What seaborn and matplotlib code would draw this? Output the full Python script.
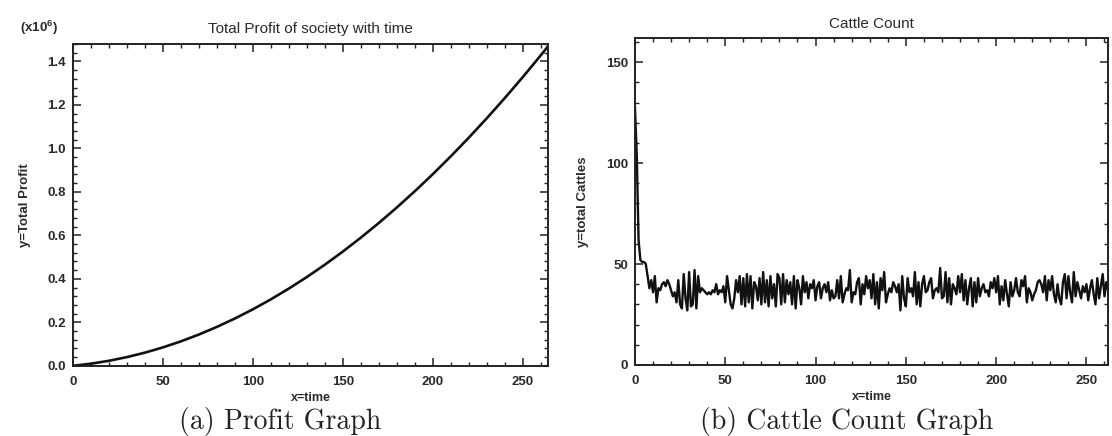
import numpy as np
import pandas as pd
import seaborn as sns
import matplotlib
matplotlib.use("Agg")
import matplotlib.pyplot as plt
from matplotlib.ticker import MultipleLocator, FormatStrFormatter

# ---------------- data ----------------
profit_time = [0, 10, 20, 30, 40, 50, 60, 70, 80, 90, 100, 110, 120, 130, 140,
               150, 160, 170, 180, 190, 200, 210, 220, 230, 240, 250, 260, 264]
profit_millions = [0.0, 0.0097, 0.023, 0.040, 0.0605, 0.0847, 0.1125, 0.1439,
                   0.179, 0.2176, 0.2599, 0.3058, 0.3553, 0.4084, 0.4652, 0.5255,
                   0.5895, 0.6571, 0.7283, 0.8031, 0.8816, 0.9637, 1.0494, 1.1387,
                   1.2316, 1.3281, 1.4283, 1.4694]

cattle_count = [
    128, 104, 62, 52, 51, 51, 50, 44, 38, 42,
    36, 44, 31, 38, 37, 40, 41, 39, 42, 40,
    37, 34, 36, 31, 42, 30, 28, 45, 33, 27,
    46, 29, 30, 47, 28, 44, 36, 38, 37, 36,
    35, 36, 35, 37, 36, 40, 35, 37, 36, 39,
    31, 44, 37, 30, 28, 33, 42, 36, 44, 30,
    43, 29, 45, 31, 44, 28, 41, 39, 32, 43,
    30, 46, 31, 42, 29, 44, 33, 40, 29, 45,
    43, 30, 45, 31, 42, 35, 41, 30, 44, 28,
    42, 38, 30, 44, 36, 41, 33, 40, 38, 42,
    32, 39, 41, 33, 38, 40, 36, 41, 32, 37,
    33, 34, 42, 33, 44, 31, 35, 38, 37, 47,
    31, 36, 35, 41, 43, 30, 40, 35, 44, 38,
    42, 33, 45, 30, 41, 28, 43, 37, 46, 31,
    35, 38, 36, 41, 39, 36, 40, 27, 44, 33,
    29, 43, 36, 38, 34, 46, 30, 41, 29, 40,
    44, 36, 37, 41, 43, 33, 37, 38, 36, 48,
    33, 34, 46, 31, 43, 30, 40, 38, 35, 44,
    36, 45, 32, 42, 30, 38, 43, 29, 41, 31,
    43, 34, 38, 40, 36, 37, 34, 41, 38, 43,
    36, 44, 30, 39, 32, 42, 35, 29, 41, 34,
    37, 43, 36, 34, 42, 39, 44, 31, 38, 36,
    32, 35, 37, 41, 42, 40, 36, 44, 32, 42,
    37, 44, 35, 31, 40, 33, 30, 41, 45, 33,
    44, 36, 31, 46, 34, 41, 37, 33, 39, 36,
    40, 32, 38, 42, 35, 30, 43, 33, 39, 45,
    34, 41, 37, 46,
]
cattle_time = list(range(len(cattle_count)))

profit_df = pd.DataFrame({"time": profit_time, "profit": profit_millions})
cattle_df = pd.DataFrame({"time": cattle_time, "cattle": cattle_count})

# ---------------- style ----------------
sns.set_style("ticks")
plt.rcParams["font.family"] = ["Liberation Sans", "DejaVu Sans"]
plt.rcParams["mathtext.fontset"] = "custom"
plt.rcParams["mathtext.rm"] = "Liberation Sans"
plt.rcParams["mathtext.bf"] = "Liberation Sans:bold"

fig = plt.figure(figsize=(11.12, 4.36), dpi=100)
ax1 = fig.add_axes([0.0656, 0.161, 0.4272, 0.738])
ax2 = fig.add_axes([0.5710, 0.163, 0.4255, 0.750])

tick_fs = 9.5
title_fs = 11
ink = "#2a2a2a"

def style_axes(ax):
    for s in ax.spines.values():
        s.set_linewidth(1.4)
        s.set_color("#222222")
    ax.tick_params(which="both", direction="in", top=True, right=True,
                   colors="#222222", labelsize=tick_fs, labelcolor=ink)
    ax.tick_params(which="major", length=6, width=1.1)
    ax.tick_params(axis="y", which="major", pad=5)
    ax.tick_params(axis="x", which="major", pad=7)
    ax.tick_params(which="minor", length=3, width=1.0)
    ax.xaxis.set_major_locator(MultipleLocator(50))
    ax.xaxis.set_minor_locator(MultipleLocator(10))
    for lab in ax.get_xticklabels() + ax.get_yticklabels():
        lab.set_fontweight("bold")

# ---- left: profit ----
sns.lineplot(data=profit_df, x="time", y="profit", ax=ax1, color="#111111",
             linewidth=1.9)
ax1.set_xlim(0, 264)
ax1.set_ylim(0, 1.48)
ax1.yaxis.set_major_locator(MultipleLocator(0.2))
ax1.yaxis.set_minor_locator(MultipleLocator(0.04))
ax1.yaxis.set_major_formatter(FormatStrFormatter("%.1f"))
style_axes(ax1)
ax1.set_xlabel("x=time", fontsize=9, color=ink, fontweight="bold", labelpad=3)
ax1.set_ylabel("y=Total Profit", fontsize=9.5, color=ink, fontweight="bold",
               labelpad=12)
ax1.set_title("Total Profit of society with time", fontsize=title_fs,
              color=ink, pad=8)
fig.text(39 / 1112, 1 - 28 / 436, r"(x10$^{\mathbf{6}}$)", fontsize=tick_fs,
         color=ink, fontweight="bold", ha="center", va="center")

# ---- right: cattle ----
sns.lineplot(data=cattle_df, x="time", y="cattle", ax=ax2, color="#111111",
             linewidth=1.7)
ax2.set_xlim(0, 262)
ax2.set_ylim(0, 162)
ax2.yaxis.set_major_locator(MultipleLocator(50))
ax2.yaxis.set_minor_locator(MultipleLocator(10))
style_axes(ax2)
ax2.set_xlabel("x=time", fontsize=9, color=ink, fontweight="bold", labelpad=3)
ax2.set_ylabel("y=total Cattles", fontsize=9.5, color=ink, fontweight="bold",
               labelpad=12)
ax2.set_title("Cattle Count", fontsize=title_fs, color=ink, pad=7)

# ---- captions ----
fig.text(280 / 1112, 1 - 421 / 436, "(a) Profit Graph", family="cmr10",
         fontsize=20, ha="center", va="center", color="#222222")
fig.text(847 / 1112, 1 - 421 / 436, "(b) Cattle Count Graph", family="cmr10",
         fontsize=20, ha="center", va="center", color="#222222")

fig.savefig("out.png", dpi=100, facecolor="white")
